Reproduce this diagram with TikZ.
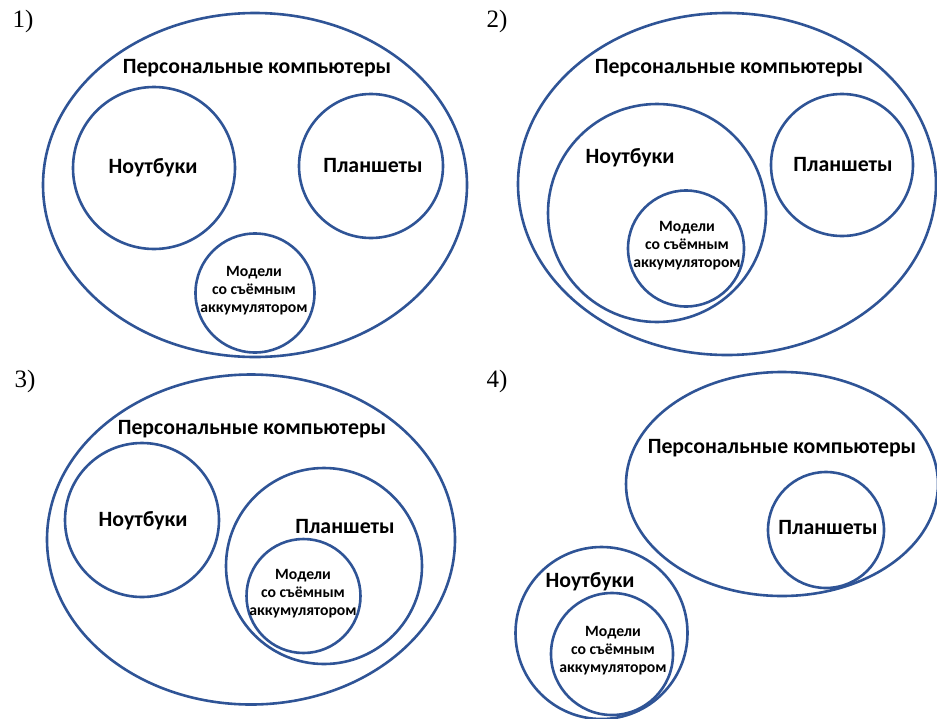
\documentclass[tikz,border=0pt]{standalone}
\usepackage{fontspec}
\setmainfont{Liberation Serif}
\newfontfamily\carlito{Carlito}
\usetikzlibrary{shapes.geometric}
\definecolor{setblue}{RGB}{47,84,150}

\begin{document}
\begin{tikzpicture}[x=1pt,y=-1pt,
  ring/.style={draw=setblue,line width=2.6pt,circle,inner sep=0pt,minimum size=#1},
  oval/.style 2 args={draw=setblue,line width=2.6pt,ellipse,inner sep=0pt,
        minimum width=#1,minimum height=#2},
  big/.style={font=\carlito\bfseries\fontsize{21.8}{25}\selectfont,inner sep=0pt},
  small/.style={font=\carlito\bfseries\fontsize{15.7}{18}\selectfont,align=center,inner sep=0pt},
  num/.style={font=\fontsize{25}{28}\selectfont,inner sep=0pt}]
  \useasboundingbox (0,0) rectangle (937,718);

  \node[num](n1) at (23,21){1)};
  \node[oval={424}{344}](pc1) at (255,185){};
  \node[big](pc1t) at (257,68){Персональные компьютеры};
  \node[ring=162](nb1) at (154,168){};
  \node[big](nb1t) at (153,168){Ноутбуки};
  \node[ring=144](pl1) at (371,166){};
  \node[big](pl1t) at (373,166){Планшеты};
  \node[ring=119](md1) at (255,293){};
  \node[small](md1t) at (254,291){Модели\\со съёмным\\аккумулятором};

  \node[num](n2) at (497,21){2)};
  \node[oval={418}{342}](pc2) at (727,184){};
  \node[big](pc2t) at (729,68){Персональные компьютеры};
  \node[ring=218](nb2) at (657,213){};
  \node[big](nb2t) at (630,158){Ноутбуки};
  \node[ring=116](md2) at (686,248.5){};
  \node[small](md2t) at (687,246){Модели\\со съёмным\\аккумулятором};
  \node[ring=142](pl2) at (842,165){};
  \node[big](pl2t) at (843,165){Планшеты};

  \node[num](n3) at (25,381){3)};
  \node[oval={408}{330}](pc3) at (251,539.5){};
  \node[big](pc3t) at (252,429){Персональные компьютеры};
  \node[ring=154](nb3) at (142,520){};
  \node[big](nb3t) at (143,521){Ноутбуки};
  \node[ring=196](pl3) at (324,566){};
  \node[big](pl3t) at (345,527){Планшеты};
  \node[ring=114](md3) at (303.5,596){};
  \node[small](md3t) at (303,594){Модели\\со съёмным\\аккумулятором};

  \node[num](n4) at (497,381){4)};
  \node[oval={312}{224}](pc4) at (782,484){};
  \node[big](pc4t) at (782,448){Персональные компьютеры};
  \node[ring=116](pl4) at (826,530){};
  \node[big](pl4t) at (828,528){Планшеты};
  \node[ring=172](nb4) at (601.5,633){};
  \node[big](nb4t) at (590,582){Ноутбуки};
  \node[ring=122](md4) at (612,654){};
  \node[small](md4t) at (613,651){Модели\\со съёмным\\аккумулятором};
\end{tikzpicture}
\end{document}
